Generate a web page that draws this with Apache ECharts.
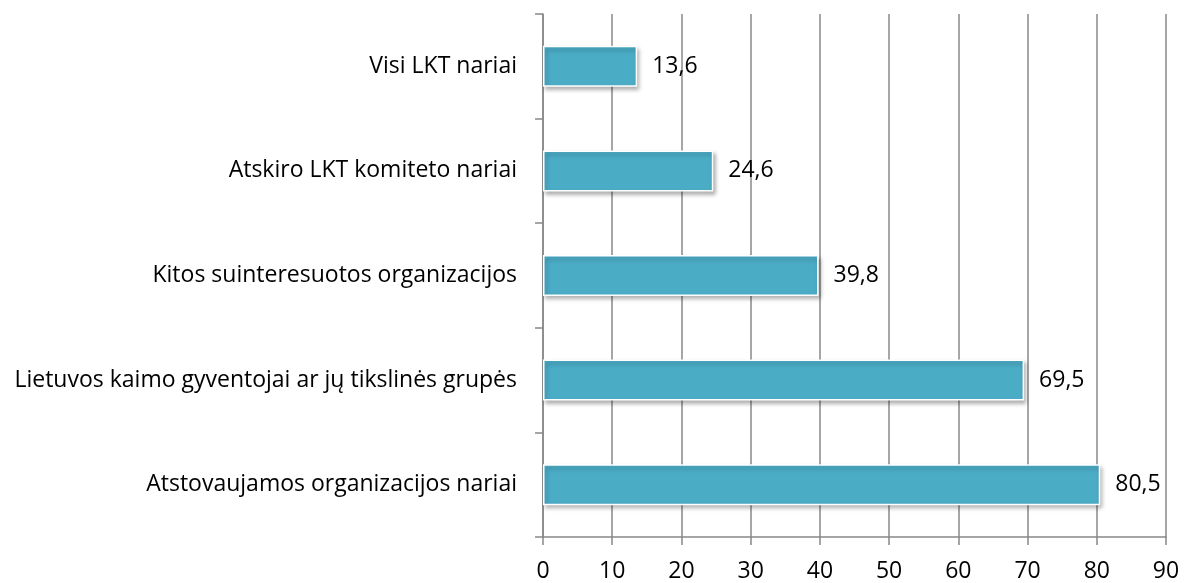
<!DOCTYPE html>
<html>
<head>
<meta charset="utf-8">
<script src="https://cdn.jsdelivr.net/npm/echarts@6/dist/echarts.min.js"></script>
<style>
  html, body { margin: 0; padding: 0; background: #fff; }
  #main { width: 1192px; height: 583px; }
</style>
</head>
<body>
<div id="main"></div>
<script>
var categories = [
  'Atstovaujamos organizacijos nariai',
  'Lietuvos kaimo gyventojai ar jų tikslinės grupės',
  'Kitos suinteresuotos organizacijos',
  'Atskiro LKT komiteto nariai',
  'Visi LKT nariai'
];
var values = [80.5, 69.5, 39.8, 24.6, 13.6];

var myChart = echarts.init(document.getElementById('main'));
var fontFam = '"Open Sans", "Noto Sans", sans-serif';

var option = {
  animation: false,
  grid: { left: 543, right: 26, top: 14, bottom: 46 },
  xAxis: {
    type: 'value',
    min: 0, max: 90, interval: 10,
    axisLine: { show: true, lineStyle: { color: '#888', width: 1.5 } },
    axisTick: { show: true, length: 8, lineStyle: { color: '#888', width: 1.5 } },
    axisLabel: { color: '#000', fontSize: 23, fontFamily: fontFam, margin: 23 },
    splitLine: { show: true, lineStyle: { color: '#888', width: 1.5 } }
  },
  yAxis: {
    type: 'category',
    data: categories,
    axisLine: { show: true, lineStyle: { color: '#888', width: 1.5 } },
    axisTick: { show: true, length: 8, lineStyle: { color: '#888', width: 1.5 } },
    axisLabel: { color: '#000', fontSize: 23, fontFamily: fontFam, margin: 26 }
  },
  series: [{
    type: 'bar',
    data: values,
    barWidth: 41,
    itemStyle: {
      color: '#4BACC6',
      borderColor: '#fff',
      borderWidth: 1.5,
      shadowColor: 'rgba(0,0,0,0.3)',
      shadowBlur: 4,
      shadowOffsetX: 2,
      shadowOffsetY: 3
    },
    label: {
      show: true,
      position: 'right',
      distance: 15,
      color: '#000',
      fontSize: 23,
      fontFamily: fontFam,
      formatter: function (p) { return String(p.value.toFixed(1)).replace('.', ','); }
    }
  }]
};
myChart.setOption(option);
</script>
</body>
</html>
